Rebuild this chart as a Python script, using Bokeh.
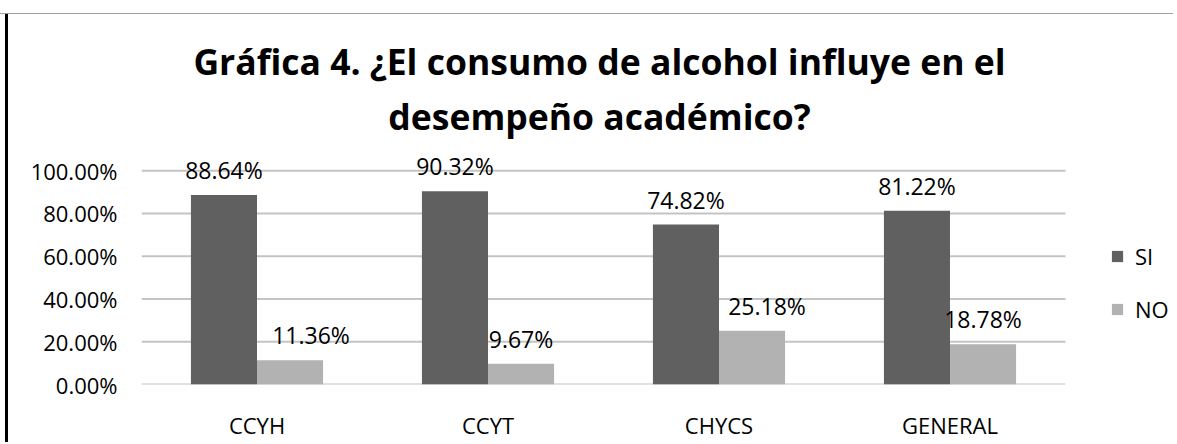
from bokeh.plotting import figure
from bokeh.models import (ColumnDataSource, Range1d, FixedTicker, NumeralTickFormatter,
                          Legend, LegendItem, Label, LabelSet, Spacer)
from bokeh.layouts import row, column
from bokeh.core.properties import value
from bokeh.embed import file_html
from bokeh.resources import INLINE

categories = ["CCYH", "CCYT", "CHYCS", "GENERAL"]
si_values = [0.8864, 0.9032, 0.7482, 0.8122]
no_values = [0.1136, 0.0967, 0.2518, 0.1878]
si_labels = ["88.64%", "90.32%", "74.82%", "81.22%"]
no_labels = ["11.36%", "9.67%", "25.18%", "18.78%"]
y_ticks = [0, 0.2, 0.4, 0.6, 0.8, 1.0]
title_lines = ["Gráfica 4. ¿El consumo de alcohol influye en el",
               "desempeño académico?"]

# label nudges (pixels) as in the original chart
no_dx = [21, 0, 15, 0]

FONT = "Open Sans"
SI_COLOR = "#606060"
NO_COLOR = "#b2b2b2"
GRID = "#c4c4c4"
W, H = 1165, 428
FRAME_H = 372
PX_PER_CAT = 231.0
PX_PER_UNIT = 215.0

n = len(categories)
centers = [i + 0.5 for i in range(n)]
w = 0.286
src = ColumnDataSource(dict(
    xsi=[c - w / 2 for c in centers], xno=[c + w / 2 for c in centers],
    si=si_values, no=no_values, si_lab=si_labels, no_lab=no_labels, dx=no_dx))

p = figure(x_range=Range1d(0, (W - 133) / PX_PER_CAT),
           y_range=Range1d(0, FRAME_H / PX_PER_UNIT),
           width=W, height=H, output_backend="svg", toolbar_location=None,
           min_border_left=133, min_border_right=0, min_border_bottom=H - FRAME_H,
           min_border_top=0)
p.outline_line_color = None
p.xgrid.grid_line_color = None
p.ygrid.grid_line_color = None

# horizontal gridlines across the category area
p.segment(x0=[0] * len(y_ticks), x1=[n] * len(y_ticks), y0=y_ticks, y1=y_ticks,
          line_color=GRID, line_width=2)

r_si = p.vbar(x="xsi", top="si", width=w, source=src, color=SI_COLOR, line_color=None)
r_no = p.vbar(x="xno", top="no", width=w, source=src, color=NO_COLOR, line_color=None)

p.add_layout(LabelSet(x="xsi", y="si", text="si_lab", source=src,
                      text_align="center", text_baseline="middle", y_offset=25,
                      text_font=value(FONT), text_font_size="23px",
                      text_color="#000000"))
p.add_layout(LabelSet(x="xno", y="no", text="no_lab", source=src,
                      text_align="center", text_baseline="middle",
                      x_offset="dx", y_offset=25, text_font=value(FONT),
                      text_font_size="23px", text_color="#000000"))

for txt, yy in zip(title_lines, [324, 269]):
    p.add_layout(Label(x=458, y=yy, x_units="screen", y_units="screen", text=txt,
                       text_align="center", text_baseline="middle",
                       text_font=FONT, text_font_size="35.5px",
                       text_font_style="bold", text_color="#000000"))

p.yaxis.ticker = FixedTicker(ticks=y_ticks)
p.yaxis.formatter = NumeralTickFormatter(format="0.00%")
p.yaxis.axis_line_color = None
p.yaxis.major_tick_line_color = None
p.yaxis.minor_tick_line_color = None
p.yaxis.major_tick_out = 0
p.yaxis.major_tick_in = 0
p.yaxis.major_label_standoff = 24
p.yaxis.major_label_text_font = FONT
p.yaxis.major_label_text_font_size = "22px"
p.yaxis.major_label_text_color = "#000000"

p.xaxis.ticker = FixedTicker(ticks=centers)
p.xaxis.major_label_overrides = {c: lab for c, lab in zip(centers, categories)}
p.xaxis.axis_line_color = None
p.xaxis.major_tick_line_color = None
p.xaxis.minor_tick_line_color = None
p.xaxis.major_tick_out = 0
p.xaxis.major_tick_in = 0
p.xaxis.major_label_standoff = 25
p.xaxis.major_label_text_font = FONT
p.xaxis.major_label_text_font_size = "22px"
p.xaxis.major_label_text_color = "#000000"

legend = Legend(items=[LegendItem(label="SI", renderers=[r_si]),
                       LegendItem(label="NO", renderers=[r_no])],
                location=(969, 60), orientation="vertical")
legend.glyph_width = 14
legend.glyph_height = 14
legend.label_standoff = 11
legend.spacing = 23
legend.padding = 0
legend.margin = 0
legend.border_line_color = None
legend.background_fill_alpha = 0
legend.label_text_font = FONT
legend.label_text_font_size = "22px"
legend.label_text_color = "#000000"
p.add_layout(legend)

# chart-area borders: thin grey top rule, black left rule
top_gap = Spacer(width=W + 8, height=13)
top_rule = Spacer(width=W + 8, height=1, styles={"background-color": "#a0a0a0"})
left_gap = Spacer(width=5, height=H)
left_rule = Spacer(width=3, height=H, styles={"background-color": "#000000"})
layout = column(top_gap, top_rule, row(left_gap, left_rule, p, spacing=0), spacing=0)

open("out.html", "w").write(file_html(layout, INLINE))
